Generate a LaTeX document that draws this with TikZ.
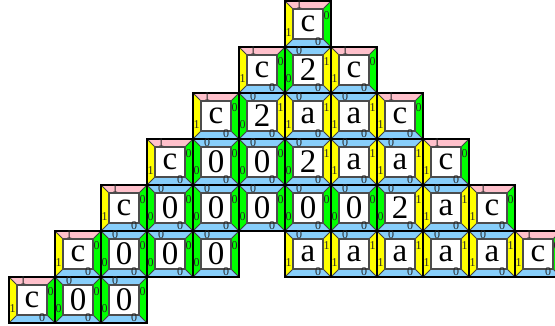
\documentclass[tikz,border=0pt]{standalone}
\usepackage{fontspec}
\setmainfont{Liberation Serif}
\definecolor{pk}{HTML}{FFC0CB}
\definecolor{yl}{HTML}{FFFF00}
\definecolor{gr}{HTML}{00FF00}
\definecolor{bl}{HTML}{87CEFA}
\tikzset{
  inner/.style={draw=black!70,line width=1.3pt,fill=white},
  outer/.style={draw=black,line width=1.4pt},
  big/.style={font=\fontsize{33}{33}\selectfont,inner sep=0pt},
  small/.style={font=\fontsize{12}{12}\selectfont,inner sep=0pt,text=black!85},
}
% #1 x, #2 y, #3 glyph, #4 top, #5 right, #6 left
\newcommand{\tile}[6]{%
 \begin{scope}[shift={(#1,#2)}]
  \ifnum#4=1\def\tc{pk}\else\def\tc{bl}\fi
  \ifnum#5=1\def\rc{yl}\else\def\rc{gr}\fi
  \ifnum#6=1\def\lc{yl}\else\def\lc{gr}\fi
  \fill[\tc] (0,0)--(46,0)--(38,8)--(8,8)--cycle;
  \fill[\rc] (46,0)--(46,46)--(38,38)--(38,8)--cycle;
  \fill[bl] (0,46)--(46,46)--(38,38)--(8,38)--cycle;
  \fill[\lc] (0,0)--(0,46)--(8,38)--(8,8)--cycle;
  \draw[black!75,line width=0.8pt] (0,0)--(8,8) (46,0)--(38,8) (46,46)--(38,38) (0,46)--(8,38);
  \draw[inner] (8,8) rectangle (38,38);
  \draw[outer] (0,0) rectangle (46,46);
  \node[big] (g#1x#2) at (23,22.5) {#3};
  \node[small] (t#1x#2) at (14,4) {#4};
  \node[small] (r#1x#2) at (41.5,15) {#5};
  \node[small] (b#1x#2) at (33,41) {0};
  \node[small] (l#1x#2) at (3.7,31.5) {#6};
 \end{scope}}
\begin{document}
\begin{tikzpicture}[x=1pt,y=-1pt]
\useasboundingbox (0,0) rectangle (555,326);
\clip (0,0) rectangle (555,326);
\tile{285}{1}{c}{1}{0}{1}
\tile{239}{47}{c}{1}{0}{1}
\tile{285}{47}{2}{0}{1}{0}
\tile{331}{47}{c}{1}{0}{1}
\tile{193}{93}{c}{1}{0}{1}
\tile{239}{93}{2}{0}{1}{0}
\tile{285}{93}{a}{0}{1}{1}
\tile{331}{93}{a}{0}{1}{1}
\tile{377}{93}{c}{1}{0}{1}
\tile{147}{139}{c}{1}{0}{1}
\tile{193}{139}{0}{0}{0}{0}
\tile{239}{139}{0}{0}{0}{0}
\tile{285}{139}{2}{0}{1}{0}
\tile{331}{139}{a}{0}{1}{1}
\tile{377}{139}{a}{0}{1}{1}
\tile{423}{139}{c}{1}{0}{1}
\tile{101}{185}{c}{1}{0}{1}
\tile{147}{185}{0}{0}{0}{0}
\tile{193}{185}{0}{0}{0}{0}
\tile{239}{185}{0}{0}{0}{0}
\tile{285}{185}{0}{0}{0}{0}
\tile{331}{185}{0}{0}{0}{0}
\tile{377}{185}{2}{0}{1}{0}
\tile{423}{185}{a}{0}{1}{1}
\tile{469}{185}{c}{1}{0}{1}
\tile{55}{231}{c}{1}{0}{1}
\tile{101}{231}{0}{0}{0}{0}
\tile{147}{231}{0}{0}{0}{0}
\tile{193}{231}{0}{0}{0}{0}
\tile{285}{231}{a}{0}{1}{1}
\tile{331}{231}{a}{0}{1}{1}
\tile{377}{231}{a}{0}{1}{1}
\tile{423}{231}{a}{0}{1}{1}
\tile{469}{231}{a}{0}{1}{1}
\tile{515}{231}{c}{1}{0}{1}
\tile{9}{277}{c}{1}{0}{1}
\tile{55}{277}{0}{0}{0}{0}
\tile{101}{277}{0}{0}{0}{0}
\end{tikzpicture}
\end{document}
